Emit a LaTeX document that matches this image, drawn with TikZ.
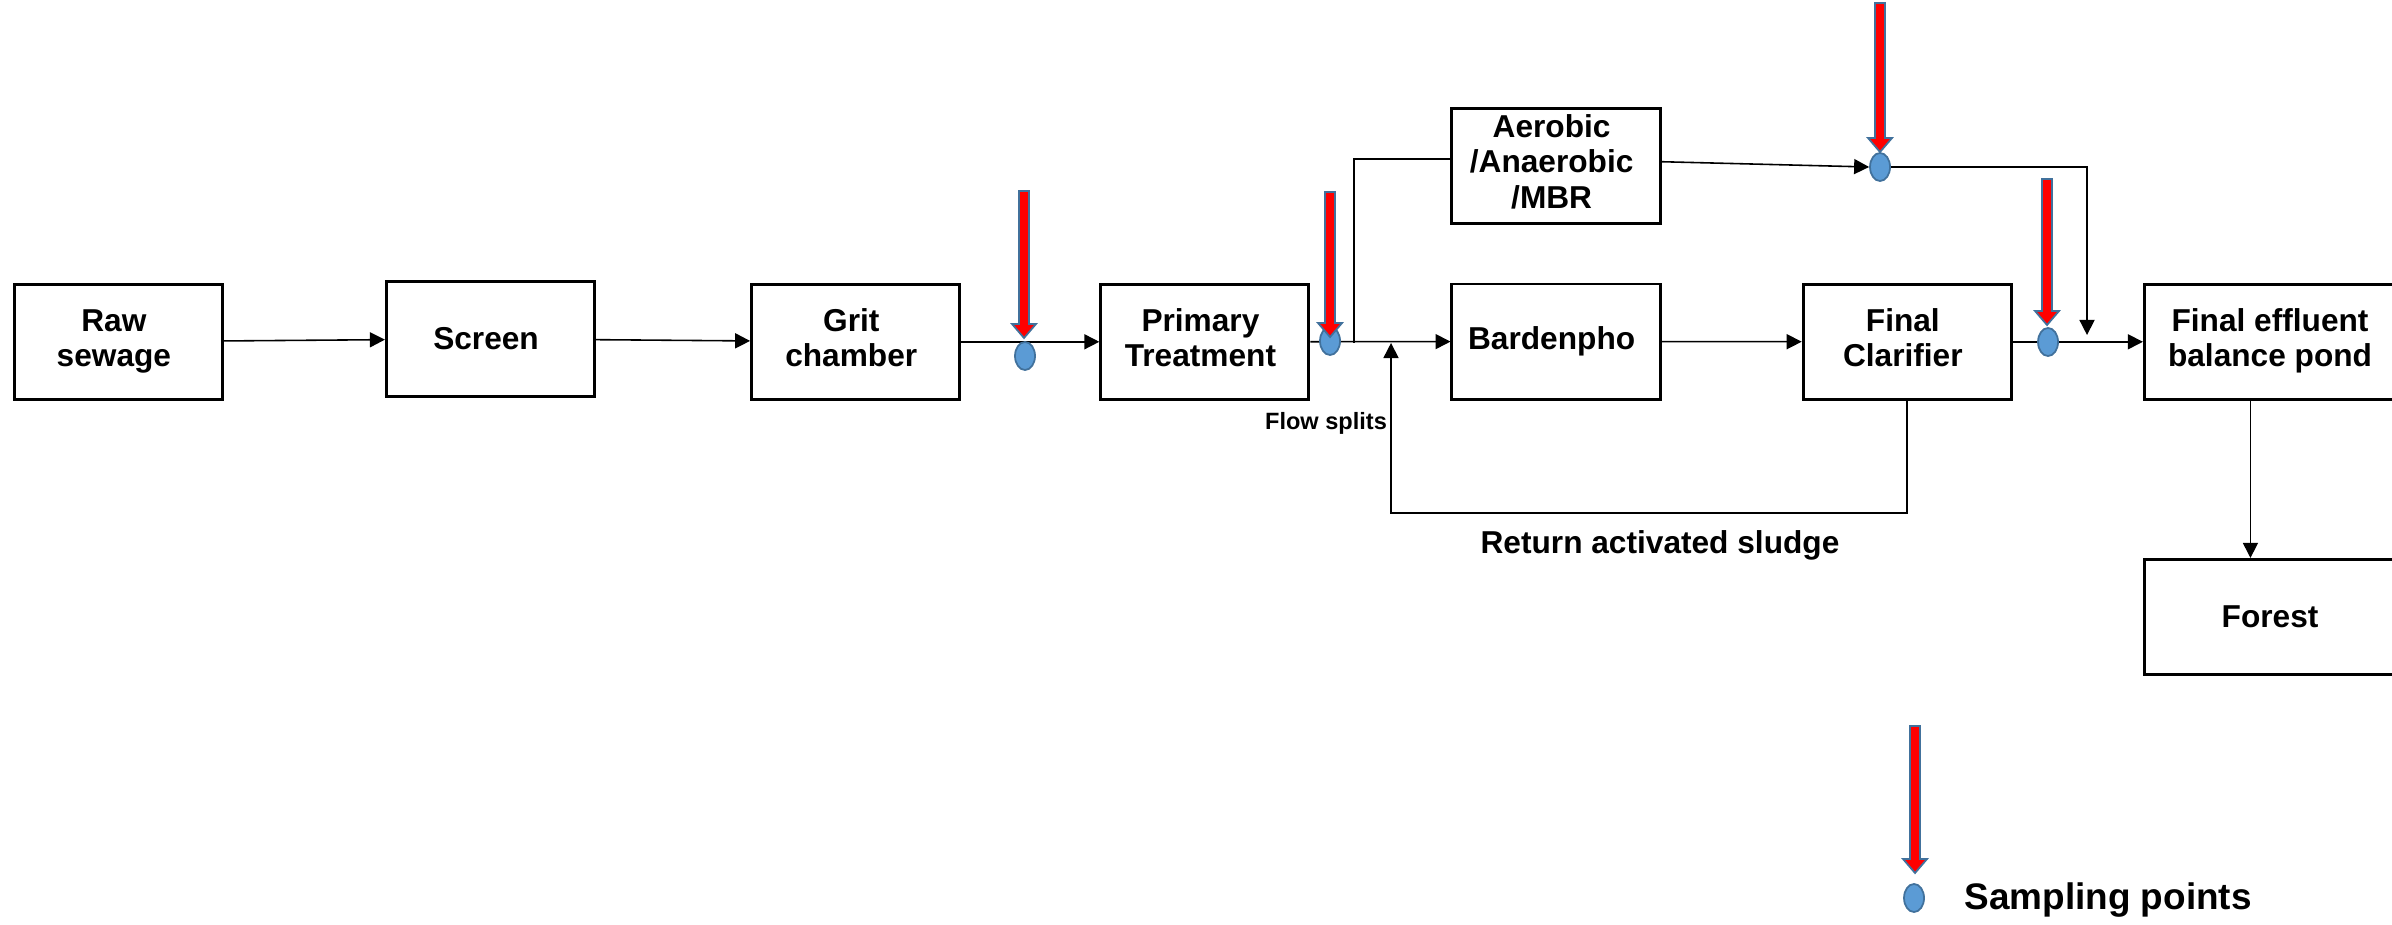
\documentclass[tikz,border=0pt]{standalone}
\usepackage{fontspec}
\setmainfont{Liberation Sans}
\usepackage{tikz}
\usetikzlibrary{matrix,arrows.meta,shapes.geometric}
\definecolor{spotfill}{HTML}{5B9BD5}
\definecolor{spotline}{HTML}{41719C}
\newcommand\boxlines[1]{\begin{tabular}{@{}c@{}}#1\end{tabular}}

\begin{document}
\begin{tikzpicture}[x=0.01cm, y=-0.01cm,
  box/.style={draw, line width=0.85pt, minimum width=2.08cm, minimum height=1.15cm, inner sep=1pt, align=center, font=\bfseries\fontsize{9}{10.2}\selectfont},
  wide/.style={box, minimum width=2.6cm},
  flow/.style={line width=0.45pt, -{Triangle[length=0.15cm, width=0.15cm]}},
  pipe/.style={line width=0.45pt},
  spot/.style={ellipse, draw=spotline, fill=spotfill, line width=0.5pt, minimum width=0.2cm, minimum height=0.28cm, inner sep=0pt},
  probe/.style={fill=red, draw=spotline, line width=0.5pt},
  note/.style={font=\bfseries\fontsize{9}{11}\selectfont}]
  \useasboundingbox (0,0) rectangle (2392,925);
  \clip (0,0) rectangle (2392,925);
  \matrix (m) [matrix of nodes, anchor=north west, inner sep=0pt, column sep=1.3cm, row sep=0.55cm, nodes={box}] at (12,106)
  {
   &[0.31cm] &[0.24cm] &[0.08cm] &[0.1cm] \boxlines{Aerobic\\/Anaerobic\\/MBR} &[0.1cm] & \\
  \boxlines{Raw\\sewage} &[0.31cm] Screen &[0.24cm] \boxlines{Grit\\chamber} &[0.08cm] \boxlines{Primary\\Treatment} &[0.1cm] Bardenpho &[0.1cm] \boxlines{Final\\Clarifier} & |[wide]| \boxlines{Final effluent\\balance pond} \\[1.02cm]
   &[0.31cm] &[0.24cm] &[0.08cm] &[0.1cm] &[0.1cm] & |[wide]| Forest \\
  };
  % main line
  \draw[flow] (m-2-1) -- (m-2-2);
  \draw[flow] (m-2-2) -- (m-2-3);
  \draw[flow] (m-2-3) -- (m-2-4);
  \draw[flow] (m-2-4) -- (m-2-5);
  \draw[flow] (m-2-5) -- (m-2-6);
  \draw[flow] (m-2-6) -- (m-2-7);
  \draw[flow] ([xshift=-0.24cm]m-2-7.south) -- ([xshift=-0.24cm]m-3-7.north);
  % side stream and return sludge
  \coordinate (split) at (1354,343);
  \coordinate (merge) at (2087,335);
  \coordinate (ret) at (1391,343);
  \draw[pipe] (split) |- ([yshift=0.07cm]m-1-5.west);
  \node[spot] (p3) at (1880,167) {};
  \draw[flow] ([yshift=0.04cm]m-1-5.east) -- (p3.west);
  \draw[flow] (p3.east) -| (merge);
  \draw[flow] (m-2-6.south) -- ++(0,112) -| (ret);
  % sampling points
  \node[spot] (p1) at (1025,356) {};
  \node[spot] (p2) at (1330,341) {};
  \node[spot] (p4) at (2048,342) {};
  \node[spot] (p0) at (1914,898) {};
  \foreach \x/\top/\tip in {1024/191/338, 1330/192/337, 1880/3/152, 2047/179/325, 1915/726/873}
    \draw[probe] ({\x-5},\top) -- ({\x+5},\top) -- ({\x+5},{\tip-14}) -- ({\x+12},{\tip-14}) -- (\x,\tip) -- ({\x-12},{\tip-14}) -- ({\x-5},{\tip-14}) -- cycle;
  % labels
  \node[note, font=\bfseries\fontsize{6.7}{8}\selectfont] (splits) at (1326,423) {Flow splits};
  \node[note] (sludge) at (1660,545) {Return activated sludge};
  \node[note, font=\bfseries\fontsize{10.5}{12}\selectfont, anchor=west] (legend) at (1952,900) {Sampling points};
\end{tikzpicture}
\end{document}
